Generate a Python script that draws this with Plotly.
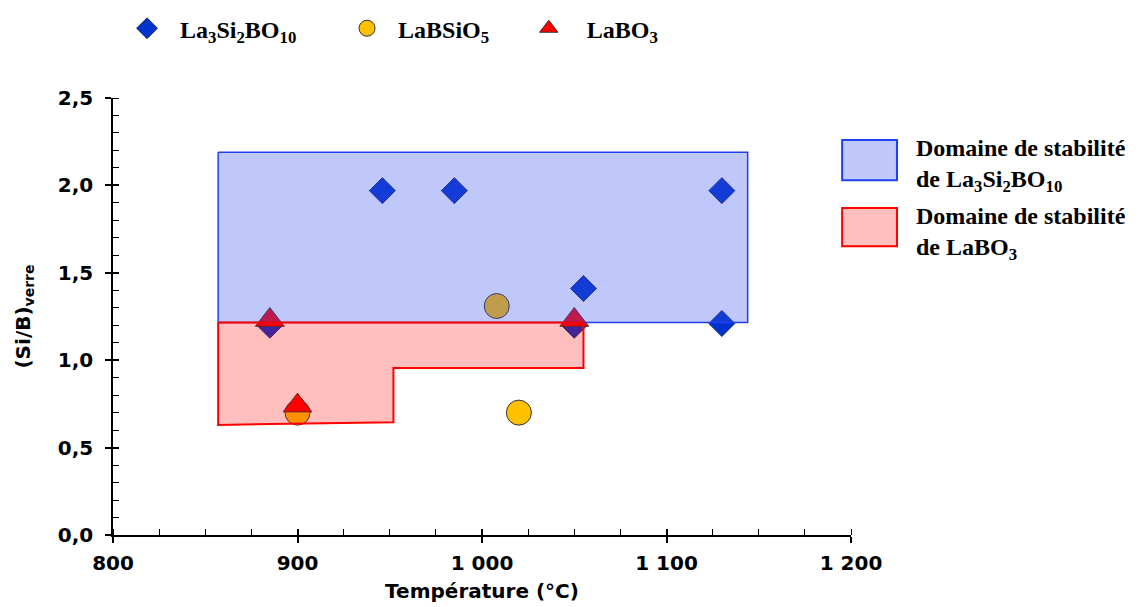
import plotly.graph_objects as go

# Data
la3_T = [885, 946, 985, 1050, 1055, 1130, 1130]
la3_r = [1.20, 1.97, 1.97, 1.20, 1.41, 1.97, 1.21]
labsio5_T = [900, 1008, 1020]
labsio5_r = [0.70, 1.31, 0.70]
labo3_T = [885, 900, 1050]
labo3_r = [1.23, 0.74, 1.23]

dom_la3_T = [857, 1144, 1144, 857, 857]
dom_la3_r = [2.19, 2.19, 1.215, 1.215, 2.19]
dom_labo3_T = [857, 1055, 1055, 952, 952, 857, 857]
dom_labo3_r = [1.215, 1.215, 0.955, 0.955, 0.645, 0.63, 1.215]

dom_names = ["Domaine de stabilité<br>de La<sub>3</sub>Si<sub>2</sub>BO<sub>10</sub>",
             "Domaine de stabilité<br>de LaBO<sub>3</sub>"]
dom_fill = ["rgba(60,80,240,0.32)", "rgba(255,0,0,0.25)"]
dom_line = ["#2040F0", "#FF0000"]

serif = "Liberation Serif"
sans = "DejaVu Sans"

fig = go.Figure()
fig.add_trace(go.Scatter(x=la3_T, y=la3_r, mode="markers", name="La<sub>3</sub>Si<sub>2</sub>BO<sub>10</sub>",
                         marker=dict(symbol="diamond", size=20, color="#0033CC", line=dict(color="#1a2a6a", width=1)),
                         legend="legend"))
fig.add_trace(go.Scatter(x=labsio5_T, y=labsio5_r, mode="markers", name="LaBSiO<sub>5</sub>",
                         marker=dict(symbol="circle", size=25, color="#FFC000", line=dict(color="#333333", width=1)),
                         legend="legend3"))
fig.add_trace(go.Scatter(x=labo3_T, y=labo3_r, mode="markers", name="LaBO<sub>3</sub>",
                         marker=dict(symbol="triangle-up", size=25, color="#FF0000", line=dict(color="#333333", width=1)),
                         legend="legend4"))
fig.add_trace(go.Scatter(x=dom_la3_T, y=dom_la3_r, mode="lines", fill="toself", name=dom_names[0],
                         fillcolor=dom_fill[0], line=dict(color=dom_line[0], width=1.5), showlegend=False))
fig.add_trace(go.Scatter(x=dom_labo3_T, y=dom_labo3_r, mode="lines", fill="toself", name=dom_names[1],
                         fillcolor=dom_fill[1], line=dict(color=dom_line[1], width=2), showlegend=False))
# invisible trace for overlay axes (crossing major ticks)
fig.add_trace(go.Scatter(x=[None], y=[None], xaxis="x2", yaxis="y2", showlegend=False, hoverinfo="skip"))

tickfont = dict(family=sans, size=20, color="black", weight="bold")
legfont = dict(family=serif, size=24, color="black", weight="bold")

# Right-hand legend for the stability domains (swatch + text)
sw_y = [(0.812, 0.904), (0.661, 0.748)]
txt_y = [0.92, 0.764]
for i in range(2):
    fig.add_shape(type="rect", xref="paper", yref="paper", x0=0.988, x1=1.0623, y0=sw_y[i][0], y1=sw_y[i][1],
                  fillcolor=dom_fill[i], line=dict(color=dom_line[i], width=2))
    fig.add_annotation(xref="paper", yref="paper", x=1.086, y=txt_y[i], xanchor="left", yanchor="top",
                       text=dom_names[i], showarrow=False, align="left", font=legfont)

leg_common = dict(yref="container", y=0.966, xanchor="left", yanchor="middle", orientation="h",
                  font=legfont, bgcolor="rgba(0,0,0,0)")

fig.update_layout(
    width=1139, height=607,
    margin=dict(l=105, r=296, t=90, b=80),
    paper_bgcolor="white", plot_bgcolor="white",
    separators=", ",
    xaxis=dict(range=[800, 1200], dtick=100, tick0=800, showgrid=False, zeroline=False,
               showline=True, linecolor="black", linewidth=1.5,
               ticks="outside", ticklen=6, tickwidth=1.5, tickcolor="black",
               separatethousands=True, tickfont=tickfont, ticklabelstandoff=3,
               minor=dict(dtick=25, ticks="inside", ticklen=6, tickwidth=1, tickcolor="black"),
               title=dict(text="Température (°C)", font=dict(family=sans, size=20, color="black", weight="bold"), standoff=10)),
    yaxis=dict(range=[0, 2.5], dtick=0.5, tick0=0, showgrid=False, zeroline=False,
               showline=True, linecolor="black", linewidth=1.5,
               ticks="outside", ticklen=6, tickwidth=1.5, tickcolor="black",
               tickformat=".1f", tickfont=tickfont, ticklabelstandoff=8,
               minor=dict(dtick=0.1, ticks="inside", ticklen=6, tickwidth=1, tickcolor="black"),
               title=dict(text="(Si/B)<sub>verre</sub>", font=dict(family=sans, size=20, color="black", weight="bold"), standoff=22)),
    xaxis2=dict(overlaying="x", matches="x", anchor="y2", side="bottom", showgrid=False, zeroline=False,
                showline=False, ticks="inside", ticklen=6, tickwidth=1.5, tickcolor="black",
                dtick=100, tick0=800, showticklabels=False),
    yaxis2=dict(overlaying="y", matches="y", anchor="x2", side="left", showgrid=False, zeroline=False,
                showline=False, ticks="inside", ticklen=6, tickwidth=1.5, tickcolor="black",
                dtick=0.5, tick0=0, showticklabels=False),
    legend=dict(x=0.0014, itemwidth=56, **leg_common),
    legend3=dict(x=0.3022, itemwidth=52, **leg_common),
    legend4=dict(x=0.539, itemwidth=66, **leg_common),
    showlegend=True,
)

fig.write_html("out.html")
